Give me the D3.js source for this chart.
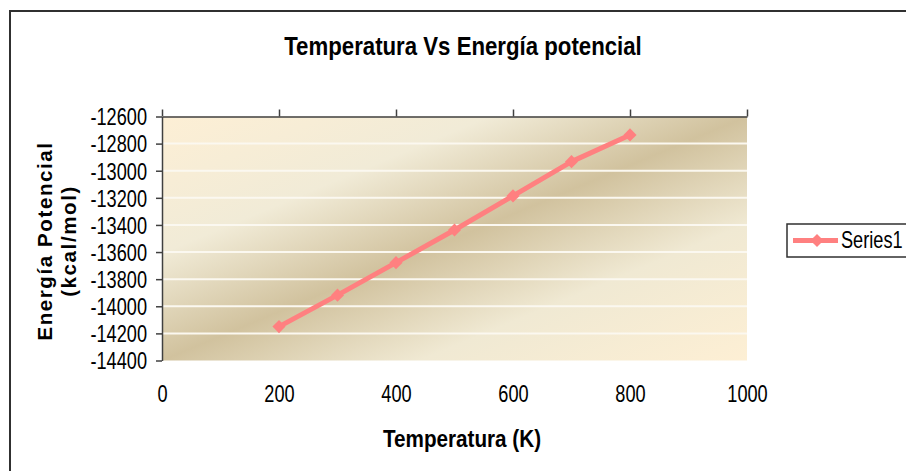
<!DOCTYPE html>
<head>
<meta charset="utf-8">
<style>
  body { margin: 0; background: #fff; }
  .axis path, .axis line { fill: none; stroke: #404040; stroke-width: 1.5px; }
  .axis text { font-family: "Liberation Sans", Arial, sans-serif; font-size: 23px; fill: #000; }
</style>
</head>
<body>
<div class="chart"></div>
<script src="https://cdnjs.cloudflare.com/ajax/libs/d3/7.8.5/d3.min.js"></script>
<script type="text/javascript">

// data
var temps = [200, 300, 400, 500, 600, 700, 800];
var energia = [-14150, -13918, -13678, -13437, -13186, -12933, -12736];
var xTicks = [0, 200, 400, 600, 800, 1000];
var yTicks = [-12600, -12800, -13000, -13200, -13400, -13600, -13800, -14000, -14200, -14400];
var seriesName = "Series1";

var width = 906, height = 471;
var margin = {top: 116.5, right: 159, bottom: 110.5, left: 162};
var plotW = width - margin.left - margin.right,
    plotH = height - margin.top - margin.bottom;
var font = '"Liberation Sans", Arial, sans-serif';
var squeeze = 0.79; // the original uses a narrow face, so text gets squeezed

var data = temps.map(function(t, i) { return {x: t, y: energia[i]}; });

var rootsvg = d3.select(".chart").append("svg")
  .attr("width", width)
  .attr("height", height);

// outer chart frame (continues past the right and bottom edges)
rootsvg.append("rect")
  .attr("x", 10).attr("y", 11)
  .attr("width", 920).attr("height", 500)
  .attr("fill", "#fff")
  .attr("stroke", "#303030")
  .attr("stroke-width", 2);

// parchment gradient for the plot area
var defs = rootsvg.append("defs");
var grad = defs.append("linearGradient")
  .attr("id", "parch")
  .attr("x1", 0).attr("y1", 0).attr("x2", 1).attr("y2", 1);
[[0, "#fdefd5"], [0.28, "#f1ebd7"], [0.5, "#d1c29e"], [0.72, "#f0e9d3"], [1, "#fdefd4"]]
  .forEach(function(s) { grad.append("stop").attr("offset", s[0]).attr("stop-color", s[1]); });

var svg = rootsvg.append("g")
  .attr("transform", "translate(" + margin.left + "," + margin.top + ")");

var xScale = d3.scaleLinear().domain([0, 1000]).range([0, plotW]);
var yScale = d3.scaleLinear().domain([-14400, -12600]).range([plotH, 0]);

svg.append("rect")
  .attr("width", plotW).attr("height", plotH)
  .attr("fill", "url(#parch)");

// gridlines
svg.append("g").selectAll("line")
  .data(yTicks.slice(1, -1)).enter().append("line")
  .attr("x1", 0).attr("x2", plotW)
  .attr("y1", function(d) { return yScale(d); })
  .attr("y2", function(d) { return yScale(d); })
  .attr("stroke", "#fbf8f0")
  .attr("stroke-width", 2);

// x axis line sits at the top, labels are placed below the plot
svg.append("g")
  .attr("class", "x axis")
  .call(d3.axisTop(xScale).tickValues(xTicks).tickSize(7).tickSizeOuter(0).tickFormat(""));

svg.append("g")
  .attr("class", "x axis labels")
  .attr("transform", "translate(0," + (plotH + 22) + ")")
  .call(d3.axisBottom(xScale).tickValues(xTicks).tickSize(0).tickFormat(function(d) { return String(d); }))
  .call(function(g) { g.select(".domain").remove(); })
  .selectAll("text").attr("transform", "scale(" + squeeze + ",1)");

svg.append("g")
  .attr("class", "y axis")
  .call(d3.axisLeft(yScale).tickValues(yTicks).tickSize(6).tickSizeOuter(0).tickPadding(13)
    .tickFormat(function(d) { return String(d); }))
  .selectAll("text")
  .attr("dy", "0.36em")
  .attr("transform", "scale(" + squeeze + ",1)");

// series line
var line = d3.line()
  .x(function(d) { return xScale(d.x); })
  .y(function(d) { return yScale(d.y); });

svg.append("path")
  .datum(data)
  .attr("d", line)
  .attr("fill", "none")
  .attr("stroke", "#ff8080")
  .attr("stroke-width", 5)
  .attr("stroke-linejoin", "round");

var diamond = d3.symbol().type(d3.symbolDiamond2).size(110);

svg.selectAll(".pt")
  .data(data).enter().append("path")
  .attr("class", "pt")
  .attr("d", diamond)
  .attr("transform", function(d) { return "translate(" + xScale(d.x) + "," + yScale(d.y) + ")"; })
  .attr("fill", "#ff8080");

// title
rootsvg.append("text")
  .attr("transform", "translate(463,55) scale(0.855,1)")
  .attr("text-anchor", "middle")
  .attr("font-family", font)
  .attr("font-weight", "bold")
  .attr("font-size", "26px")
  .text("Temperatura Vs Energía potencial");

// x title
rootsvg.append("text")
  .attr("transform", "translate(462,447) scale(0.88,1)")
  .attr("text-anchor", "middle")
  .attr("font-family", font)
  .attr("font-weight", "bold")
  .attr("font-size", "23.5px")
  .text("Temperatura (K)");

// y title, two lines
var yt = rootsvg.append("text")
  .attr("transform", "translate(0,241) rotate(-90)")
  .attr("text-anchor", "middle")
  .attr("font-family", font)
  .attr("font-weight", "bold")
  .attr("font-size", "20.5px")
  .attr("letter-spacing", "1.6px");
yt.append("tspan").attr("x", 0).attr("y", 52).text("Energía Potencial");
yt.append("tspan").attr("x", 0).attr("y", 76).text("(kcal/mol)");

// legend
var legend = rootsvg.append("g").attr("transform", "translate(787,224)");
legend.append("rect")
  .attr("width", 140).attr("height", 33)
  .attr("fill", "#fff")
  .attr("stroke", "#303030")
  .attr("stroke-width", 1.5);
legend.append("line")
  .attr("x1", 6).attr("x2", 51).attr("y1", 16.5).attr("y2", 16.5)
  .attr("stroke", "#ff8080").attr("stroke-width", 5);
legend.append("path")
  .attr("d", diamond)
  .attr("transform", "translate(30,16.5)")
  .attr("fill", "#ff8080");
legend.append("text")
  .attr("transform", "translate(54,24) scale(" + squeeze + ",1)")
  .attr("font-family", font)
  .attr("font-size", "23px")
  .text(seriesName);

</script>
</body>
